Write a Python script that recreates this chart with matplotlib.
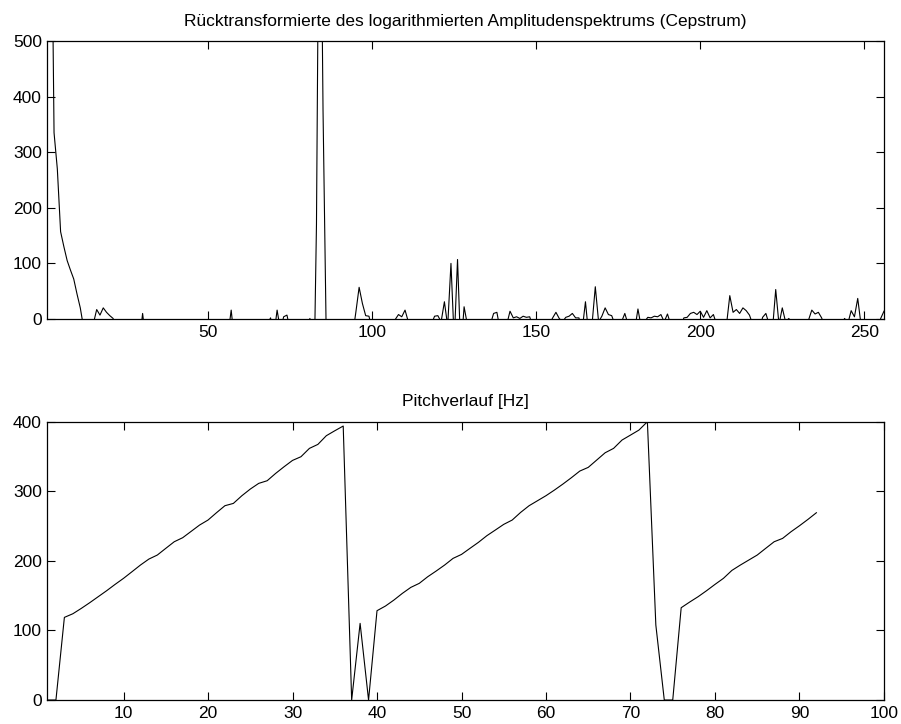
import matplotlib
matplotlib.use("Agg")
from matplotlib import pyplot as plt
import numpy as np

plt.rcParams['font.family'] = ['Liberation Sans', 'DejaVu Sans']
plt.rcParams['font.size'] = 12.5

# Cepstrum, Koeffizienten 1..256 (je Zeile 16 Werte)
cepstrum = [
    2000, 900, 335, 270, 157, 130, 105, 88, 72, 45, 20, -15, -30, -20, -8, 17,
    7, 20, 12, 6, 1, -20, -30, -40, -25, -35, -45, -30, -40, 10, -40, -35,
    -50, -30, -45, -40, -25, -55, -35, -40, -30, -45, -50, -35, -40, -30, -45, -35,
    -50, -40, -30, -45, -35, -40, -50, -30, 16, -40, -30, -45, -35, -50, -40, -30,
    -45, -35, -40, -10, 2, -30, 16, -20, 4, 7, -20, -35, -45, -30, -40, -20,
    1, -200, 170, 1000, 375, -40, -30, -45, -35, -40, -50, -30, -40, -30, 12, 57,
    28, 6, 5, -20, -40, -30, -45, -35, -40, -30, -1, 8, 4, 16, -5, -35,
    -40, -30, -45, -35, -40, -10, 5, 6, -5, 31, -13, 100, -40, 107, -60, 22,
    -10, -40, -35, -45, -30, -40, -50, -10, 10, 12, -20, -35, -10, 14, 2, 4,
    1, 5, 3, 4, -15, -40, -30, -45, -35, -10, 2, 12, 1, -5, 3, 5,
    10, 2, 2, -20, 31, -30, -10, 58, -5, 5, 20, 8, 6, -10, -30, -5,
    10, -10, -35, -20, 18, -15, -5, 3, 2, 5, 4, 8, -5, 9, -10, -35,
    -40, -15, 2, 3, 10, 12, 8, 14, 3, 15, 2, 8, -10, -30, -15, -10,
    42, 12, 17, 10, 20, 15, 7, -10, -35, -20, 3, 10, -10, -20, 53, -10,
    20, -5, 1, -10, -30, -40, -35, -15, -2, 16, 9, 12, 2, -15, -40, -35,
    -45, -30, -10, 1, -8, 15, 4, 37, -10, -20, -35, -40, -30, -20, 1, 14,
]
quefrenz = np.arange(1, len(cepstrum) + 1)

# Pitch je Frame in Hz
pitch = [
    0, 0, 118.8, 124, 131.7, 139.9, 148.5, 157.1, 166.2, 174.9, 184.4, 194,
    202.6, 208.4, 218, 227.5, 233.3, 242.4, 251.5, 258.7, 269.2, 279.3, 282.6, 293.6,
    303.2, 311.4, 315.2, 325.7, 335.3, 344.4, 349.7, 361.7, 367.4, 379.9, 387, 393.8,
    0, 110.2, 0, 128.4, 135.1, 143.7, 153.3, 161.9, 167.7, 177.2, 185.4, 194,
    203.6, 209.3, 218, 226.6, 236.2, 244.3, 252.5, 258.7, 269.7, 279.3, 286.5, 293.7,
    301.8, 310.4, 319.5, 329.1, 334.4, 344.9, 355.4, 361.7, 373.7, 380.8, 388, 400,
    107.8, 0, 0, 132.7, 140.8, 148.5, 157.1, 166.2, 174.9, 186.3, 194, 201.2,
    208.4, 218, 227.5, 232.3, 241.9, 250.5, 259.6, 269.2,
]
frames = np.arange(1, len(pitch) + 1)


def style_axes(ax):
    ax.tick_params(direction='in', length=6, width=0.8, top=True, right=True,
                   labelsize=12.5, pad=4)
    for s in ax.spines.values():
        s.set_linewidth(0.9)


fig = plt.figure(figsize=(9.01, 7.24), dpi=100)

ax1 = fig.add_axes([0.0527, 0.5594, 0.9284, 0.384])
ax1.plot(quefrenz, cepstrum, color='k', linewidth=0.8)
ax1.set_xlim(1, 256)
ax1.set_ylim(0, 500)
ax1.set_xticks([50, 100, 150, 200, 250])
ax1.set_yticks([0, 100, 200, 300, 400, 500])
ax1.set_title('Rücktransformierte des logarithmierten Amplitudenspektrums (Cepstrum)',
              fontsize=12.5, pad=11)
style_axes(ax1)

ax2 = fig.add_axes([0.0527, 0.0331, 0.9284, 0.3844])
ax2.plot(frames, pitch, color='k', linewidth=0.8)
ax2.set_xlim(1, 100)
ax2.set_ylim(0, 400)
ax2.set_xticks(np.arange(10, 101, 10))
ax2.set_yticks([0, 100, 200, 300, 400])
ax2.set_title('Pitchverlauf [Hz]', fontsize=12.5, pad=11)
style_axes(ax2)

plt.savefig("out.png", dpi=100)
